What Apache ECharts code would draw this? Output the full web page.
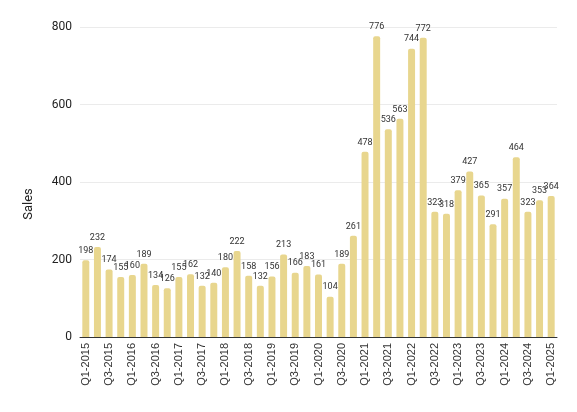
<!DOCTYPE html>
<html>
<head>
<meta charset="utf-8">
<script src="https://cdn.jsdelivr.net/npm/echarts@6/dist/echarts.min.js"></script>
<style>
  html, body { margin: 0; padding: 0; background: #fff; }
  #box { width: 577px; height: 412px; }
</style>
</head>
<body>
<div id="box"></div>
<script>
// 季度
var quarters = [];
var years = [2015, 2016, 2017, 2018, 2019, 2020, 2021, 2022, 2023, 2024, 2025];
var qs = ['Q1', 'Q2', 'Q3', 'Q4'];
for (var i = 0; i < years.length; i++) {
    for (var j = 0; j < 4; j++) {
        if (years[i] === 2025 && j > 0) break;
        quarters.push(qs[j] + '-' + years[i]);
    }
}
// 销量
var sales = [
    198, 232, 174, 155,
    160, 189, 134, 126,
    155, 162, 132, 140,
    180, 222, 158, 132,
    156, 213, 166, 183,
    161, 104, 189, 261,
    478, 776, 536, 563,
    744, 772, 323, 318,
    379, 427, 365, 291,
    357, 464, 323, 353,
    364
];
var yTicks = [0, 200, 400, 600, 800];

var myChart = echarts.init(document.getElementById('box'));
var option = {
    animation: false,
    textStyle: { fontFamily: 'Roboto, Arial, sans-serif' },
    grid: { left: 80, right: 20, top: 27, bottom: 75 },
    xAxis: {
        type: 'category',
        data: quarters,
        axisLine: { lineStyle: { color: '#333', width: 1 } },
        axisTick: { show: false },
        axisLabel: {
            rotate: 90,
            interval: 1,
            fontSize: 11,
            color: '#333',
            fontFamily: 'Liberation Sans, Arial, sans-serif',
            margin: 6
        }
    },
    yAxis: {
        type: 'value',
        min: yTicks[0],
        max: yTicks[yTicks.length - 1],
        interval: 200,
        name: 'Sales',
        nameLocation: 'middle',
        nameGap: 45,
        nameTextStyle: { fontSize: 13, color: '#222', padding: [0, 44, 0, 0] },
        axisLine: { show: false },
        axisTick: { show: false },
        axisLabel: { fontSize: 12, color: '#222', margin: 8 },
        splitLine: { lineStyle: { color: '#ebebeb' } }
    },
    series: [{
        type: 'bar',
        data: sales,
        barWidth: '60%',
        itemStyle: { color: '#e8d68e', borderRadius: [2, 2, 0, 0] },
        label: {
            show: true,
            position: 'top',
            fontSize: 9,
            color: '#333',
            distance: 5
        }
    }]
};
myChart.setOption(option);
</script>
</body>
</html>
